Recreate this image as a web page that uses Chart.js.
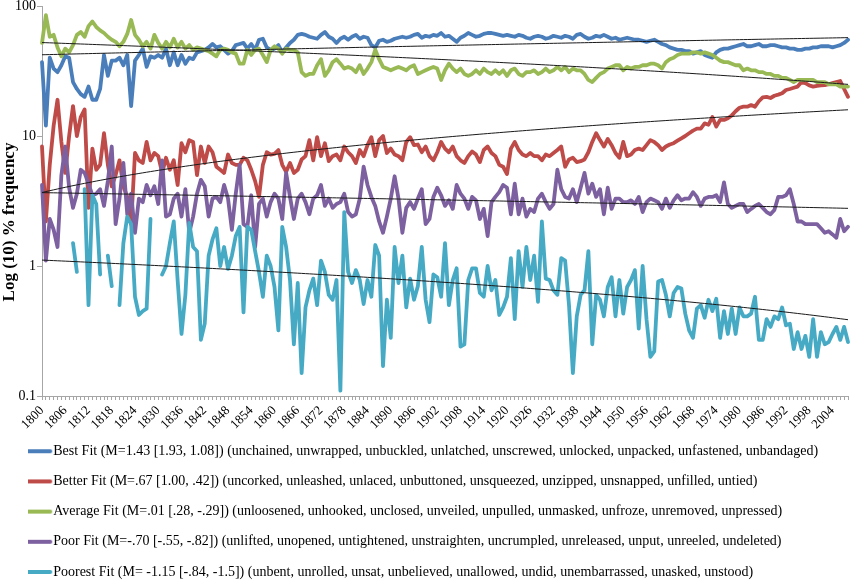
<!DOCTYPE html>
<html><head><meta charset="utf-8">
<script src="https://cdn.jsdelivr.net/npm/chart.js@4.4.0/dist/chart.umd.min.js"></script>
<style>html,body{margin:0;padding:0;background:#fff;}#wrap{width:851px;height:582px;position:relative;}</style>
</head><body><div id="wrap"><canvas id="c"></canvas></div>
<script>
const startYear = 1800, endYear = 2008;
const years = [];
for (let y = startYear; y <= endYear; y++) years.push(String(y));
const shownYearLabels = ['1800','1806','1812','1818','1824','1830','1836','1842','1848','1854','1860','1866','1872','1878','1884','1890','1896','1902','1908','1914','1920','1926','1932','1938','1944','1950','1956','1962','1968','1974','1980','1986','1992','1998','2004'];
const yTickValues = [0.1, 1, 10, 100];
const yAxisTitle = 'Log (10) % frequency';
const seriesNames = [
  'Best Fit (M=1.43 [1.93, 1.08]) (unchained, unwrapped, unbuckled, unlatched, unscrewed, unlocked, unpacked, unfastened, unbandaged)',
  'Better Fit (M=.67 [1.00, .42]) (uncorked, unleashed, unlaced, unbuttoned, unsqueezed, unzipped, unsnapped, unfilled, untied)',
  'Average Fit (M=.01 [.28, -.29]) (unloosened, unhooked, unclosed, unveiled, unpulled, unmasked, unfroze, unremoved, unpressed)',
  'Poor Fit (M=-.70 [-.55, -.82]) (unlifted, unopened, untightened, unstraighten, uncrumpled, unreleased, unput, unreeled, undeleted)',
  'Poorest Fit (M= -1.15 [-.84, -1.5]) (unbent, unrolled, unsat, unbelieved, unallowed, undid, unembarrassed, unasked, unstood)'
];
const seriesColors = ['#4a7ebb', '#be4b48', '#98b954', '#7d60a0', '#46aac5'];

const bestFit = [
37,12,40,33,31,35,41,40,26,23,
21,20,24,19,19,23,42,29,38,38,
40,35,42,17,38,42,47,34,41,40,
42,40,47,35,44,35,42,36,40,39,
44,45,46,48,51,48,49,46,43,45,
50,51,52,47,51,46,55,56,48,46,
47,50,44,48,52,55,60,61,60,58,
57,56,60,63,58,56,52,56,58,55,
58,60,56,58,57,50,48,54,55,53,
54,56,57,58,57,58,60,61,57,59,
58,60,59,62,58,59,56,53,57,59,
62,60,58,59,61,62,62,61,60,59,
60,59,58,60,59,57,56,58,59,58,
56,57,59,58,57,59,58,56,60,61,
58,56,57,59,58,60,58,56,57,55,
56,57,56,55,55,54,53,54,55,53,
51,50,48,47,46,46,45,45,43,44,
45,42,41,40,44,46,47,47,48,49,
50,51,49,49,50,51,49,49,50,50,
49,48,48,47,47,46,46,47,47,48,
48,49,49,49,48,49,50,52,55];

const betterFit = [
8.3,2.2,6,12,19,9,5.2,10,17,10,
14,16,2.8,8,5.5,6,10.5,6,4.1,5,
6.5,4.1,3.4,2.1,7.4,6.5,6.2,9,6.5,7.4,
7,5.2,6.8,5.5,6.5,4.2,8.8,7.5,9.3,9,
5,8.3,6.2,8.3,7.5,5.8,5.5,5.2,7.2,6.2,
6,6,6.8,6.5,5.5,4.5,3.4,6,7.5,7.2,
7.3,7.8,6,5.3,6.2,5.2,5.5,6.6,7,9.3,
6.5,9.8,7,8.8,6.4,7,7.2,6.5,8.3,7.5,
7,6.2,7.8,7,8.5,9.8,7,9.3,10,7.4,
8,7.2,7,6.5,9,9.8,8.5,8.6,7.5,8.3,
7,6.5,7.5,9,8,7.5,8.3,7,6.5,6.2,
7,7.6,7.2,6.3,7.8,8.3,7.4,7,6,5.8,
5.1,8,9,7.8,7.2,7,7.4,7,7,6.5,
7.2,7,7.4,7.8,8.3,5.8,6.6,6.8,6.3,6.4,
6.6,7.5,9,10.5,9.3,8.3,9.5,8.5,7.4,6.8,
9,7,7.2,7.8,8,7.8,8.5,9.3,9,8.5,
7.8,8.3,8.6,8.8,9.2,9.6,10,10.5,11,11.4,
11.4,12.5,12.2,14,11.8,13.3,13.3,13.7,14.4,15.5,
16.5,16.8,16.8,17.3,16.8,18.5,19.8,20,19.6,20.4,
20.8,21.3,22.6,23,23.5,24,26,25.5,24.5,24,
24.3,24.5,24.6,25,25.5,26,26.5,23,20];

const averageFit = [
52,85,58,60,48,41,47,44,50,60,
63,58,70,76,69,65,62,58,55,53,
49,53,61,78,60,55,49,53,47,60,
52,47,53,48,56,48,53,47,50,46,
48,47,46,45,43,41,46,47,46,44,
43,36,36,46,42,46,47,42,37,46,
49,47,43,47,46,46,44,31,29,30,
30,35,39,29,32,37,39,36,33,34,
33,31,35,30,33,37,46,39,34,33,
32,33,34,33,32,34,35,30,31,32,
33,34,33,27,32,36,33,31,33,30,
29,30,32,30,33,31,30,32,30,32,
29,32,33,30,29,31,31,32,30,31,
33,31,32,34,32,34,31,33,32,32,
30,27,26,28,30,31,33,34,35,35,
32,34,33,34,34,35,35,36,36,35,
33,37,39,40,42,43,43,43,44,44,
43,44,43,42,40,38,37,37,36,35,
35,32,33,32,32,31,31,30,30,29,
29,28,28,27,26,27,27,27,27,27,
26,26,26,25,25,25,24,24,24];

const poorFit = [
4.2,1.1,2.3,1.9,1.4,5,8.3,4,2.8,3.6,
5.5,5.2,4.3,3.5,3.6,3.9,2.9,4.5,8.3,2.1,
3.3,6.2,2.5,3.6,1.8,3.3,3.1,4.2,3.5,4.1,
3,6.5,2.4,2.5,3.3,3.6,2.4,3.9,1.8,2.4,
3.6,4.6,4.1,2.4,3.3,3.4,3.1,4.2,3.3,1.9,
3.6,6,2.1,2.0,3.5,1.4,3.0,3.3,2.4,3.1,
3.6,3.3,2.3,5.2,3.4,2.3,3.3,3.6,3.1,2.5,
3.3,3.5,4.2,2.9,3.3,2.8,3,3.1,3.6,2.6,
2.4,2.5,3.3,5.8,4.2,3.4,2.9,2.2,1.8,2.4,
3.3,4.9,3.3,1.8,2.8,3.1,2.75,3.3,3.9,2.1,
2.3,3.4,4,3.5,2.9,3.2,2.75,4.2,3.6,3.3,
2.75,3.4,3.2,2.3,2.75,1.7,3.1,3.4,3.7,4.2,
4,2.5,4.3,2.5,3.3,2.4,2.75,2.6,3.3,3.6,
3.1,2.75,3,5.5,3.9,3.4,3.3,3.9,3.1,4,
5.2,3.6,4.3,3.4,3.9,2.5,4,2.75,3.3,3.3,
3.1,3.1,3.2,3.0,3.4,2.6,3.1,3.3,3.2,3.1,
2.75,3.3,2.8,3.2,3.5,3.2,3.3,3.3,3.7,3.4,
2.9,3.3,3.4,3.4,3.5,3.1,4.4,3.0,2.8,2.9,
3.0,3.0,2.6,2.75,2.9,3.0,2.8,2.6,2.5,2.7,
3.4,3.4,3.5,3.9,3.0,2.2,2.2,2.1,2.1,2.1,
2.1,1.95,1.8,1.85,1.75,1.65,2.3,1.85,2.0];

// 0 = year with no occurrences (cannot be drawn on a log axis, shown as a gap)
const poorestFit = [
0,0,0,0,0,0,0,0,1.5,0.9,
0,3.9,0.5,3.5,3.0,0.86,0,1.2,0.7,0,
0.5,1.5,2.4,2.1,0.58,0.42,0.45,0.47,2.3,0,
0,0.86,1.0,1.5,2.2,0.78,0.3,0.6,2.15,1.4,
1.3,0.27,0.36,1.2,1.6,1.95,1.0,1.4,0.95,1.2,
1.7,2.0,0.44,2.0,1.9,1.3,0.9,0.58,1.2,1.0,
0.69,0.32,2.0,1.4,0.78,0.25,0.74,0.15,0.48,0.65,
0.8,0.5,1.1,0.9,0.6,0.55,0.78,0.11,2.6,0.9,
0.74,0.93,0.78,0.51,0.78,0.58,1.45,1.2,0.17,0.55,
0.28,1.4,0.74,1.2,0.48,0.8,0.55,0.7,1.4,0.55,
0.37,0.86,0.82,0.58,1.5,0.5,0.78,0.96,0.24,0.25,
0.78,0.96,0.96,0.62,0.58,1.0,0.65,0.78,0.42,0.48,
0.58,1.15,0.39,1.3,0.69,1.4,0.78,1.2,0.53,2.2,
0.8,0.78,0.65,0.6,1.15,1.1,0.5,0.15,0.41,0.6,
0.65,1.3,0.25,0.6,0.55,0.41,0.69,0.82,0.41,0.78,
0.43,0.69,0.78,0.93,0.33,1.0,0.39,0.2,0.22,0.76,
0.78,0.6,0.41,0.62,0.69,0.67,0.43,0.32,0.28,0.47,
0.5,0.4,0.55,0.45,0.56,0.28,0.45,0.3,0.47,0.3,
0.48,0.41,0.41,0.43,0.58,0.27,0.27,0.39,0.34,0.41,
0.39,0.48,0.35,0.36,0.23,0.31,0.23,0.29,0.2,0.39,
0.2,0.31,0.25,0.26,0.3,0.34,0.27,0.34,0.26];

const allSeries = [bestFit, betterFit, averageFit, poorFit, poorestFit];

// Excel-style linear trendline: least squares over every year's value (zeros included)
function linearTrend(arr) {
  let n = 0, sx = 0, sy = 0, sxx = 0, sxy = 0;
  arr.forEach((v, i) => { n++; sx += i; sy += v; sxx += i * i; sxy += i * v; });
  const b = (n * sxy - sx * sy) / (n * sxx - sx * sx);
  const a = (sy - b * sx) / n;
  return arr.map((_, i) => a + b * i);
}
// zero values are not drawable on a log axis -> gap
function plotted(arr) { return arr.map(v => (v > 0 ? v : null)); }

function legendLine(color) {
  const c = document.createElement('canvas');
  c.width = 40; c.height = 8;
  const g = c.getContext('2d');
  g.strokeStyle = color; g.lineWidth = 4; g.lineCap = 'round';
  g.beginPath(); g.moveTo(2, 4); g.lineTo(25, 4); g.stroke();
  return c;
}

const serif = "'Times New Roman', 'Liberation Serif', serif";
const datasets = [];
allSeries.forEach((data, k) => {
  datasets.push({
    label: seriesNames[k], data: plotted(data),
    borderColor: seriesColors[k], backgroundColor: seriesColors[k],
    borderWidth: 3.8, pointRadius: 0, pointHoverRadius: 0, pointStyle: legendLine(seriesColors[k]),
    tension: 0, fill: false, spanGaps: false, borderJoinStyle: 'round', borderCapStyle: 'round',
    order: 5 - k
  });
});
allSeries.forEach((data, k) => {
  datasets.push({
    label: 'trend' + k, data: linearTrend(data),
    borderColor: '#1a1a1a', borderWidth: 1, pointRadius: 0, pointHoverRadius: 0,
    tension: 0, fill: false, order: 0
  });
});

const adjustPlugin = {
  id: 'adjust',
  afterLayout(chart) {
    if (chart.legend) { chart.legend.left += 28; chart.legend.top -= 13; }
  },
  afterDraw(chart) {
    const ctx = chart.ctx;
    ctx.save();
    ctx.translate(10, 222);
    ctx.rotate(-Math.PI / 2);
    ctx.font = 'bold 17px ' + serif;
    ctx.fillStyle = '#000';
    ctx.textAlign = 'center';
    ctx.textBaseline = 'middle';
    ctx.fillText(yAxisTitle, 0, 0);
    ctx.restore();
  }
};

new Chart(document.getElementById('c'), {
  type: 'line',
  data: { labels: years, datasets: datasets },
  plugins: [adjustPlugin],
  options: {
    responsive: true, maintainAspectRatio: false, animation: false,
    events: [],
    layout: { padding: { top: 6, right: 3, bottom: 0, left: 0 } },
    plugins: {
      tooltip: { enabled: false },
      legend: {
        position: 'bottom', align: 'start', maxHeight: 141,
        labels: {
          usePointStyle: true, pointStyleWidth: 2, padding: 16.2,
          color: '#000', font: { family: serif, size: 14 },
          filter: (item) => item.datasetIndex < 5,
          sort: (a, b) => a.datasetIndex - b.datasetIndex
        }
      }
    },
    scales: {
      x: {
        type: 'category', offset: false,
        grid: { display: true, drawOnChartArea: false, drawTicks: true, tickLength: 4, color: '#a6a6a6', offset: false },
        border: { display: true, color: '#a6a6a6', width: 1 },
        ticks: {
          autoSkip: false, maxRotation: 45, minRotation: 45, padding: 3, color: '#000',
          font: { family: serif, size: 13 },
          callback: function (v, i) { const lab = years[i]; return shownYearLabels.includes(lab) ? lab : ''; }
        },
        afterFit: (s) => { s.height = 45; s.paddingLeft = 0; s.paddingRight = 0; }
      },
      y: {
        type: 'logarithmic', min: 0.1, max: 100,
        afterBuildTicks: (s) => { s.ticks = yTickValues.map(v => ({ value: v, major: true })); },
        grid: { display: true, drawOnChartArea: false, drawTicks: true, tickLength: 5, color: '#a6a6a6' },
        border: { display: true, color: '#a6a6a6', width: 1 },
        ticks: { autoSkip: false, padding: 1, color: '#000', font: { family: serif, size: 14 }, callback: (v) => String(v) },
        afterFit: (s) => { s.width = 42; s.paddingTop = 0; s.paddingBottom = 0; }
      }
    }
  }
});
</script></body></html>
